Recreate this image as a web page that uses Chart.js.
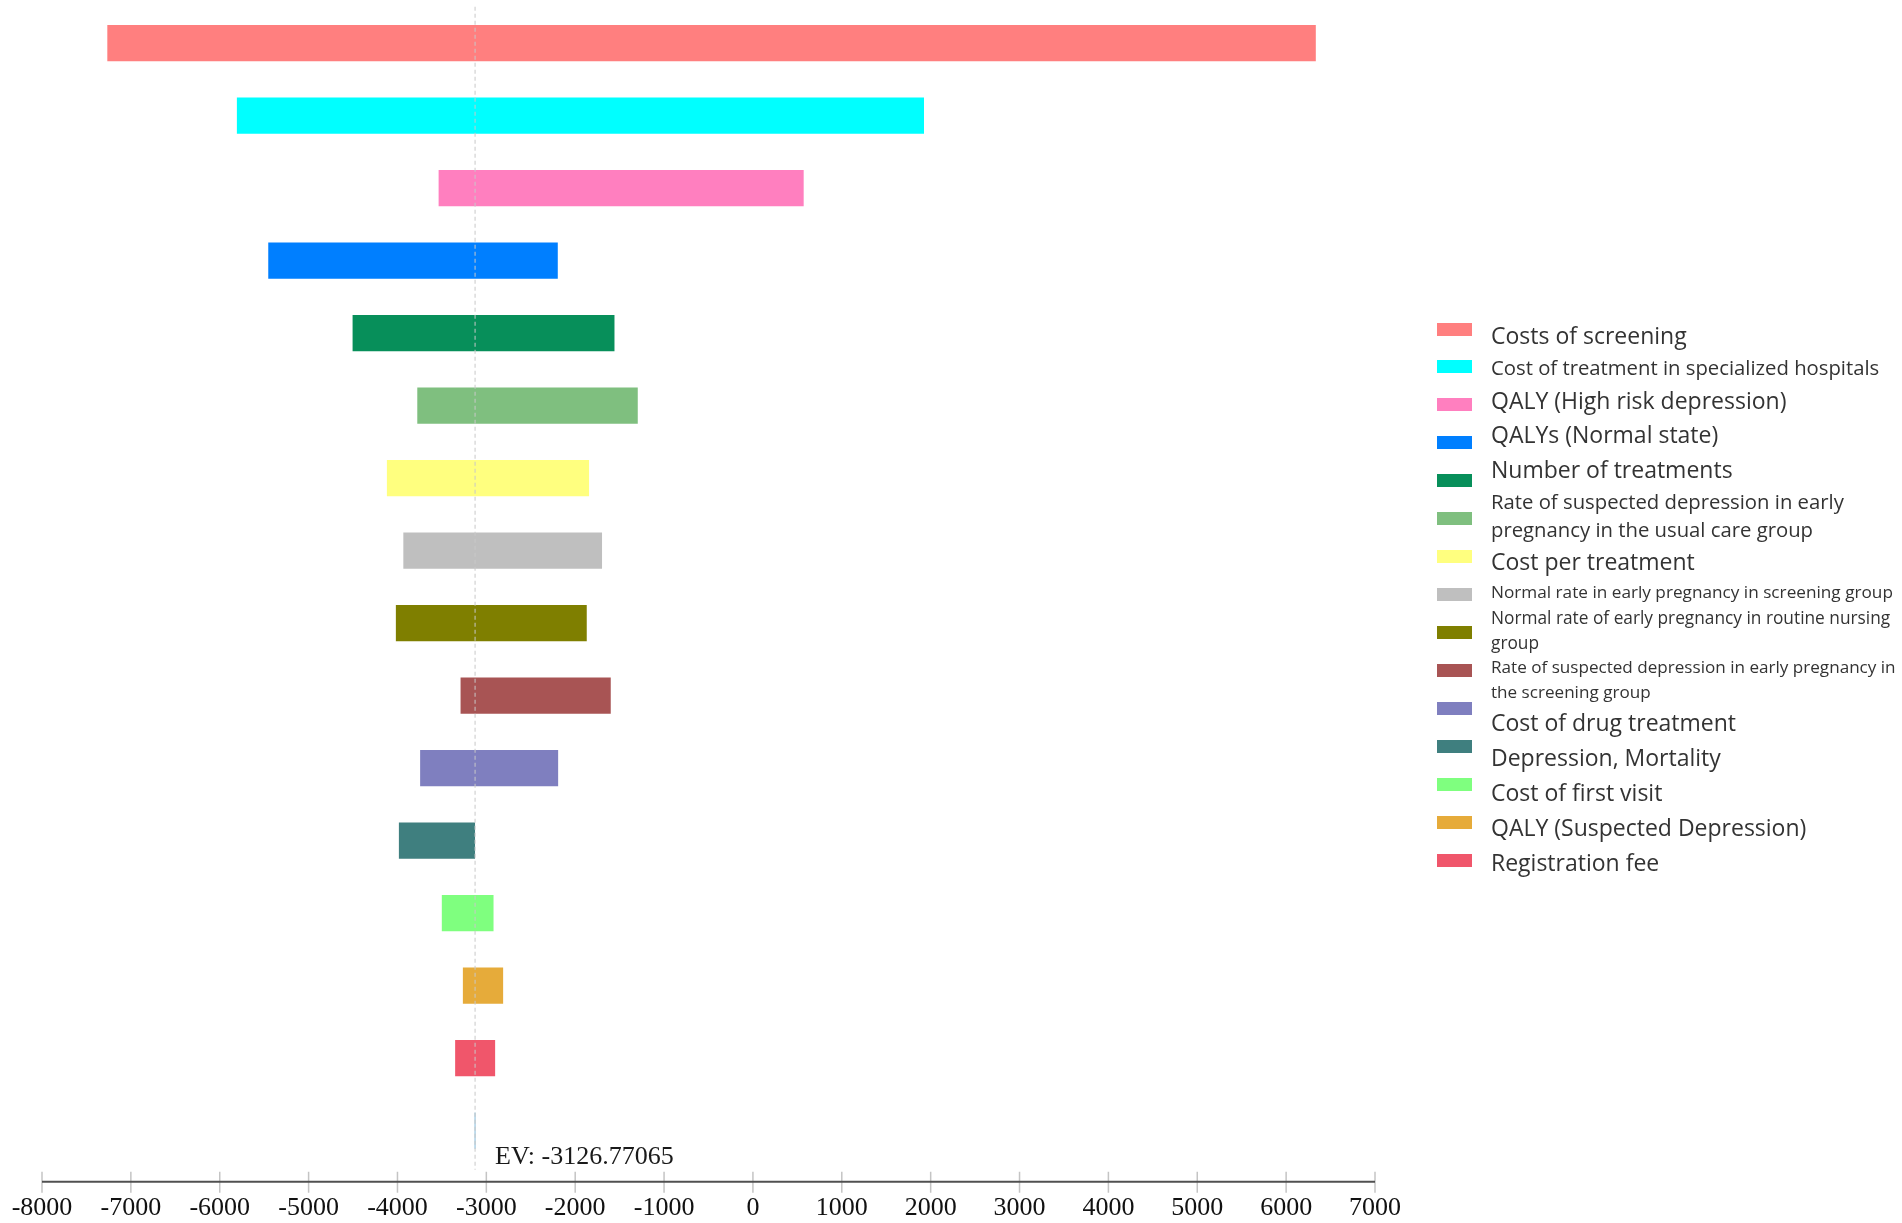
<!DOCTYPE html>
<html>
<head>
<meta charset="utf-8">
<script src="https://cdn.jsdelivr.net/npm/chart.js@4.4.1/dist/chart.umd.min.js"></script>
<style>
body { margin: 0; background: #fff; }
#wrap { position: relative; width: 1902px; height: 1223px; overflow: hidden; }
#myChart { position: absolute; left: 0; top: 0; }
#legend { position: absolute; left: 1437px; top: 0; font-family: 'Open Sans', sans-serif; color: #333; }
#legend .box { position: absolute; left: 0; width: 35px; height: 13px; }
#legend-text { position: absolute; left: 54px; top: 318px; white-space: pre; }
</style>
</head>
<body>
<div id="wrap">
	<canvas id="myChart" width="1902" height="1223"></canvas>
	<div id="legend"><div id="legend-text"></div></div>
</div>
<script>
// tornado diagram: one row per parameter, bar spans low..high result
const categories = [
	'Costs of screening',
	'Cost of treatment in specialized hospitals',
	'QALY (High risk depression)',
	'QALYs (Normal state)',
	'Number of treatments',
	['Rate of suspected depression in early', 'pregnancy in the usual care group'],
	'Cost per treatment',
	'Normal rate in early pregnancy in screening group',
	['Normal rate of early pregnancy in routine nursing', 'group'],
	['Rate of suspected depression in early pregnancy in', 'the screening group'],
	'Cost of drug treatment',
	'Depression, Mortality',
	'Cost of first visit',
	'QALY (Suspected Depression)',
	'Registration fee',
	'EV',
]
const lowValues = [-7265, -5807, -3537, -5454, -4505, -3777, -4119, -3934, -4018, -3290, -3745, -3984, -3501, -3264, -3351, -3134]
const highValues = [6334, 1925, 571, -2196, -1558, -1296, -1844, -1698, -1870, -1600, -2192, -3127, -2919, -2811, -2901, -3120]
const barColors = [
	'#FF7F7F', '#00FFFF', '#FF7FBF', '#007FFF', '#078F5A',
	'#7FBF7F', '#FFFF7F', '#BFBFBF', '#7F7F00', '#A85454',
	'#7F7FBF', '#3F7F7F', '#7FFF7F', '#E6AB3A', '#F0566B', '#9CC8E2',
]
const tickValues = [-8000, -7000, -6000, -5000, -4000, -3000, -2000, -1000, 0, 1000, 2000, 3000, 4000, 5000, 6000, 7000]
const expectedValue = -3126.77065

// EV dashed line, EV label and the axis line with its ticks
const evLine = {
	id: 'evLine',
	afterDatasetsDraw(chart) {
		const { ctx, chartArea } = chart
		const x = chart.scales.x
		const px = x.getPixelForValue(expectedValue)
		ctx.save()
		ctx.strokeStyle = '#c8c8c8'
		ctx.lineWidth = 1
		ctx.setLineDash([4, 3])
		ctx.beginPath()
		ctx.moveTo(px, chartArea.top)
		ctx.lineTo(px, chartArea.bottom + 3)
		ctx.stroke()
		ctx.setLineDash([])

		ctx.font = '26px "Liberation Serif"'
		ctx.fillStyle = '#1a1a1a'
		ctx.textBaseline = 'alphabetic'
		ctx.fillText('EV: ' + expectedValue, px + 20, chartArea.bottom - 3)

		const ay = chartArea.bottom + 15
		ctx.strokeStyle = '#c4c4c4'
		ctx.lineWidth = 1.5
		x.ticks.forEach(function (t) {
			const tx = x.getPixelForValue(t.value)
			ctx.beginPath()
			ctx.moveTo(tx, ay - 10)
			ctx.lineTo(tx, ay + 11)
			ctx.stroke()
		})
		ctx.strokeStyle = '#505050'
		ctx.lineWidth = 2
		ctx.beginPath()
		ctx.moveTo(x.left, ay)
		ctx.lineTo(x.right, ay)
		ctx.stroke()
		ctx.restore()
	},
}

const ctx = document.getElementById('myChart')
const myChart = new Chart(ctx, {
	type: 'bar',
	data: {
		labels: categories,
		datasets: [
			{
				data: lowValues.map((v, i) => [v, highValues[i]]),
				backgroundColor: barColors,
				borderWidth: 0,
				barPercentage: 0.5,
				categoryPercentage: 1,
			},
		],
	},
	options: {
		indexAxis: 'y',
		responsive: false,
		animation: false,
		layout: {
			padding: { left: 42, right: 527, top: 6.75, bottom: 0 },
		},
		plugins: {
			legend: { display: false },
			tooltip: { enabled: false },
		},
		scales: {
			y: { display: false, offset: true },
			x: {
				type: 'linear',
				min: -8000,
				max: 7000,
				afterBuildTicks: function (scale) {
					scale.ticks = tickValues.map(v => ({ value: v }))
				},
				afterFit: function (scale) {
					scale.height = 56.25
					scale.paddingLeft = 0
					scale.paddingRight = 0
				},
				grid: { display: false },
				border: { display: false },
				ticks: {
					padding: 18,
					color: '#111',
					autoSkip: false,
					maxRotation: 0,
					font: { family: 'Liberation Serif', size: 26 },
					callback: v => String(v),
				},
			},
		},
	},
	plugins: [evLine],
})

// nudge the padding until the plot area sits where the reference has it
const target = { left: 42, right: 1375, top: 6.75, bottom: 1166.75 }
for (let k = 0; k < 3; k++) {
	const ca = myChart.chartArea
	const p = myChart.options.layout.padding
	p.left += target.left - ca.left
	p.right += ca.right - target.right
	p.top += target.top - ca.top
	p.bottom += ca.bottom - target.bottom
	myChart.update()
}

// legend: boxes on a fixed step, text flows beside them
const legendEl = document.getElementById('legend')
const textCol = document.getElementById('legend-text')
const legendFont = [
	[23, 34], [20.3, 31], [23, 34], [23, 35], [23, 35],
	[20.3, 28], [23, 36], [17.2, 26], [17.3, 25], [17.1, 24.5],
	[23, 36], [23, 35], [23, 35], [23, 35], [23, 35],
]
for (let i = 0; i < 15; i++) {
	const box = document.createElement('div')
	box.className = 'box'
	box.style.top = (322.5 + i * 37.93) + 'px'
	box.style.background = barColors[i]
	legendEl.appendChild(box)

	const t = document.createElement('div')
	t.style.fontSize = legendFont[i][0] + 'px'
	t.style.lineHeight = legendFont[i][1] + 'px'
	t.textContent = [].concat(categories[i]).join('\n')
	textCol.appendChild(t)
}
</script>
</body>
</html>
